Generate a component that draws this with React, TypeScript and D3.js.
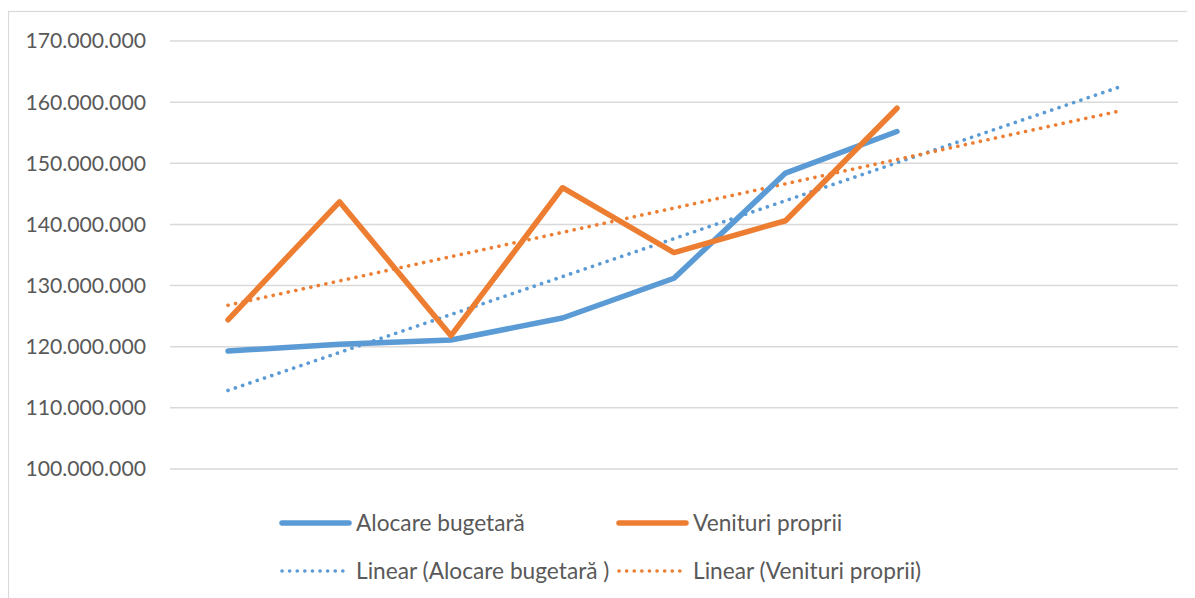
import React from "react";
import * as d3 from "d3";

const categories = ["1", "2", "3", "4", "5", "6", "7", "8", "9"];
const alocareBugetara = [119.3e6, 120.4e6, 121.1e6, 124.7e6, 131.2e6, 148.4e6, 155.2e6];
const venituriProprii = [124.4e6, 143.7e6, 121.8e6, 146.0e6, 135.4e6, 140.6e6, 159.0e6];
const yTicks = [100e6, 110e6, 120e6, 130e6, 140e6, 150e6, 160e6, 170e6];

const BLUE = "#5b9bd5";
const ORANGE = "#ed7d31";
const GRID = "#d9d9d9";
const TEXT = "#595959";
const FONT = "Lato, 'Open Sans', sans-serif";

function regression(vals: number[]) {
  const mx = d3.mean(vals.map((_, i) => i))!;
  const my = d3.mean(vals)!;
  let num = 0, den = 0;
  vals.forEach((v, i) => { num += (i - mx) * (v - my); den += (i - mx) ** 2; });
  const slope = num / den;
  return (x: number) => my + slope * (x - mx);
}

const fmt = (v: number) => d3.format(",")(v).replace(/,/g, ".");

export default function App() {
  const W = 1187, H = 590;
  const ox = -8, oy = -8; // page offset compensation
  const x = d3.scalePoint<string>().domain(categories).range([228 + ox, 1120 + ox]);
  const y = d3.scaleLinear().domain([100e6, 170e6]).range([469 + oy, 41 + oy]);
  const line = d3.line<number>().x((_, i) => x(categories[i])!).y((d) => y(d));
  const trendIdx = categories.map((_, i) => i);
  const regA = regression(alocareBugetara);
  const regV = regression(venituriProprii);
  const trendLine = (f: (x: number) => number) =>
    d3.line<number>().x((i) => x(categories[i])!).y((i) => y(f(i)))(trendIdx)!;

  const gx0 = 170 + ox, gx1 = 1178 + ox;
  const dotted = { strokeDasharray: "0.1 7.6", strokeLinecap: "round" as const, strokeWidth: 3.6 };

  return (
    <svg width={W} height={H} style={{ display: "block" }}>
      <rect x={0.5} y={3.5} width={W + 10} height={H + 10} fill="white" stroke={GRID} strokeWidth={1.2} />
      {yTicks.map((t) => (
        <g key={t}>
          <line x1={gx0} x2={gx1} y1={y(t)} y2={y(t)} stroke={GRID} strokeWidth={1.5} />
          <text x={146 + ox} y={y(t)} dy="0.35em" textAnchor="end" fill={TEXT} fontFamily={FONT} fontSize={21.2}>
            {fmt(t)}
          </text>
        </g>
      ))}
      <path d={trendLine(regA)} fill="none" stroke={BLUE} {...dotted} />
      <path d={trendLine(regV)} fill="none" stroke={ORANGE} {...dotted} />
      <path d={line(alocareBugetara)!} fill="none" stroke={BLUE} strokeWidth={5.5} strokeLinejoin="round" strokeLinecap="round" />
      <path d={line(venituriProprii)!} fill="none" stroke={ORANGE} strokeWidth={5.5} strokeLinejoin="round" strokeLinecap="round" />
      {/* legend */}
      <g fontFamily={FONT} fontSize={22.7} fill={TEXT}>
        <line x1={282 + ox} x2={349 + ox} y1={523 + oy} y2={523 + oy} stroke={BLUE} strokeWidth={5.5} strokeLinecap="round" />
        <text x={356 + ox} y={523 + oy} dy="0.35em">Alocare bugetară</text>
        <line x1={619 + ox} x2={686 + ox} y1={523 + oy} y2={523 + oy} stroke={ORANGE} strokeWidth={5.5} strokeLinecap="round" />
        <text x={693 + ox} y={523 + oy} dy="0.35em">Venituri proprii</text>
        <line x1={282 + ox} x2={350 + ox} y1={571 + oy} y2={571 + oy} stroke={BLUE} {...dotted} strokeDasharray="0.1 7.5" />
        <text x={356 + ox} y={571 + oy} dy="0.35em">Linear (Alocare bugetară )</text>
        <line x1={619 + ox} x2={687 + ox} y1={571 + oy} y2={571 + oy} stroke={ORANGE} {...dotted} strokeDasharray="0.1 7.5" />
        <text x={693 + ox} y={571 + oy} dy="0.35em">Linear (Venituri proprii)</text>
      </g>
    </svg>
  );
}
